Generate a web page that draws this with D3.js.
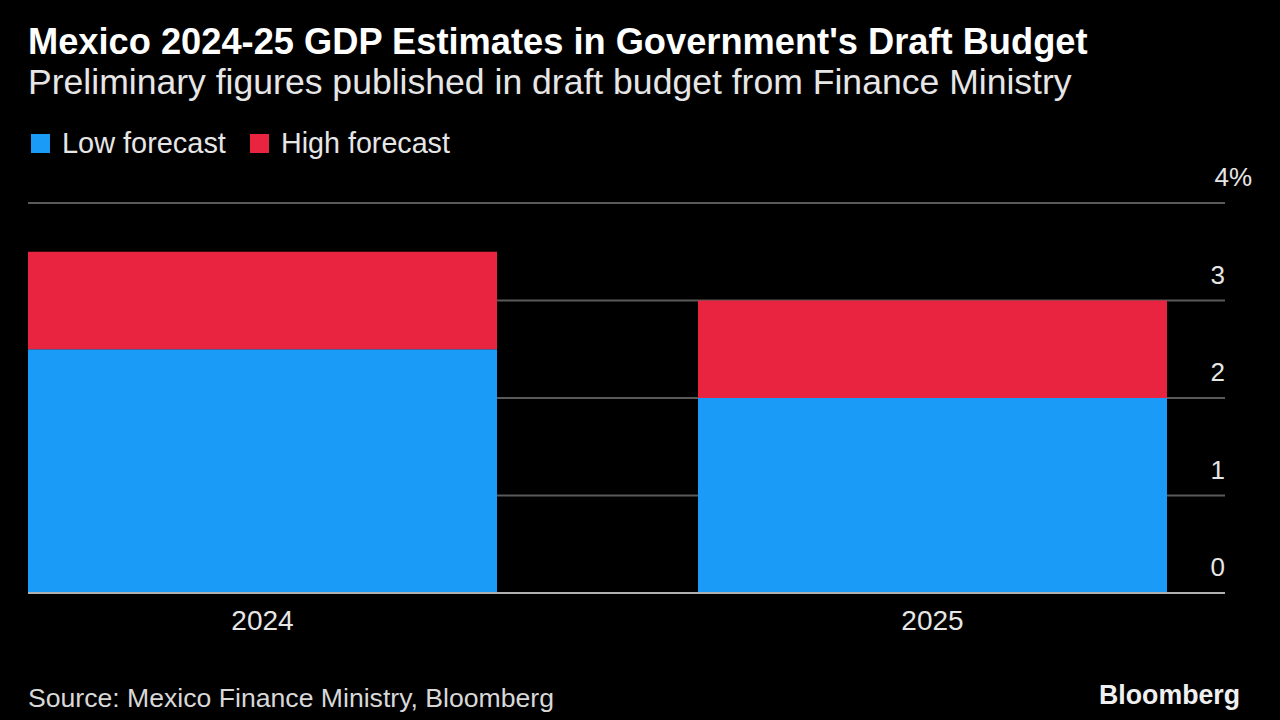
<!DOCTYPE html>
<html>
<head>
<meta charset="utf-8">
<script src="https://cdn.jsdelivr.net/npm/d3@7"></script>
<style>
  html, body { margin: 0; padding: 0; background: #000; }
  svg { display: block; }
  text { font-family: "Liberation Sans", Arial, sans-serif; }
</style>
</head>
<body>
<svg id="chart" width="1280" height="720"></svg>
<script>
const categories = ["2024", "2025"];
const lowForecast = [2.5, 2.0];
const highForecast = [3.5, 3.0];
const seriesNames = ["Low forecast", "High forecast"];
const seriesColors = ["#1a9bf8", "#e92440"];
const yTicks = [0, 1, 2, 3, 4];

const svg = d3.select("#chart");
const W = 1280, H = 720;
svg.append("rect").attr("width", W).attr("height", H).attr("fill", "#000");

const left = 28, plotRight = 1167, axisRight = 1225;
const yTop = 203, yBottom = 593;

const x = d3.scaleBand().domain(categories).range([left, plotRight]).paddingInner(0.3).paddingOuter(0);
const y = d3.scaleLinear().domain([0, 4]).range([yBottom, yTop]);

function fitText(sel, width) {
  const w = sel.node().getComputedTextLength();
  const fs = parseFloat(sel.attr("font-size"));
  sel.attr("font-size", fs * width / w);
}

// Title
const title = svg.append("text").attr("x", 28).attr("y", 54)
  .attr("fill", "#fff").attr("font-weight", "bold").attr("font-size", 28)
  .text("Mexico 2024-25 GDP Estimates in Government's Draft Budget");
fitText(title, 1060);
const sub = svg.append("text").attr("x", 28).attr("y", 94)
  .attr("fill", "#e6e6e6").attr("font-size", 28)
  .text("Preliminary figures published in draft budget from Finance Ministry");
fitText(sub, 1044);

// Legend
const legend = svg.append("g");
const legX = [31, 250];
const legTextX = [62, 281];
const legTextW = [164, 169];
seriesNames.forEach((n, i) => {
  legend.append("rect").attr("x", legX[i]).attr("y", 134).attr("width", 19).attr("height", 19)
    .attr("fill", seriesColors[i]);
  const t = legend.append("text").attr("x", legTextX[i]).attr("y", 153)
    .attr("fill", "#e6e6e6").attr("font-size", 25).text(n);
  fitText(t, legTextW[i]);
});

// Gridlines
const grid = svg.append("g");
grid.selectAll("line").data(yTicks.filter(d => d > 0)).join("line")
  .attr("x1", left).attr("x2", axisRight)
  .attr("y1", d => y(d)).attr("y2", d => y(d))
  .attr("stroke", "#5a5a5a").attr("stroke-width", 2);

// Bars (stacked: low, then high-low on top)
const stackData = categories.map((c, i) => ({ cat: c, low: lowForecast[i], high: highForecast[i] }));
const bars = svg.append("g");
bars.selectAll("rect.low").data(stackData).join("rect").attr("class", "low")
  .attr("x", d => x(d.cat)).attr("width", x.bandwidth())
  .attr("y", d => y(d.low)).attr("height", d => y(0) - y(d.low))
  .attr("fill", seriesColors[0]);
bars.selectAll("rect.high").data(stackData).join("rect").attr("class", "high")
  .attr("x", d => x(d.cat)).attr("width", x.bandwidth())
  .attr("y", d => y(d.high)).attr("height", d => y(d.low) - y(d.high))
  .attr("fill", seriesColors[1]);

// Baseline
svg.append("line").attr("x1", left).attr("x2", axisRight)
  .attr("y1", y(0)).attr("y2", y(0)).attr("stroke", "#b0b0b0").attr("stroke-width", 2);

// Y tick labels
svg.append("g").selectAll("text").data(yTicks).join("text")
  .attr("x", d => d === 4 ? 1252 : axisRight)
  .attr("y", d => y(d) - 17)
  .attr("text-anchor", "end")
  .attr("fill", "#e6e6e6").attr("font-size", 26)
  .text(d => d === 4 ? "4%" : d);

// X labels
svg.append("g").selectAll("text").data(categories).join("text")
  .attr("x", d => x(d) + x.bandwidth() / 2)
  .attr("y", 630).attr("text-anchor", "middle")
  .attr("fill", "#e6e6e6").attr("font-size", 28).text(d => d);

// Footer
const src = svg.append("text").attr("x", 28).attr("y", 707).attr("fill", "#d8d8d8").attr("font-size", 23)
  .text("Source: Mexico Finance Ministry, Bloomberg");
fitText(src, 526);
const bb = svg.append("text").attr("x", 1240).attr("y", 704).attr("text-anchor", "end")
  .attr("fill", "#f0f0f0").attr("font-weight", "bold").attr("font-size", 23).text("Bloomberg");
fitText(bb, 141);
</script>
</body>
</html>
